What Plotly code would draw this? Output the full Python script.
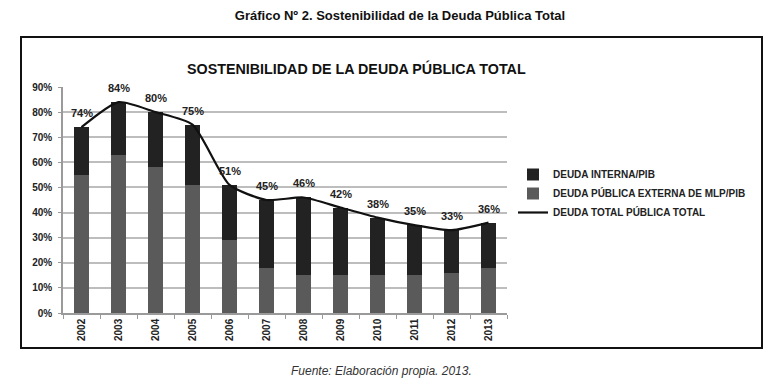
import plotly.graph_objects as go

years = ["2002", "2003", "2004", "2005", "2006", "2007", "2008", "2009", "2010", "2011", "2012", "2013"]
externa = [55, 63, 58, 51, 29, 18, 15, 15, 15, 15, 16, 18]
total = [74, 84, 80, 75, 51, 45, 46, 42, 38, 35, 33, 36]
interna = [t - e for t, e in zip(total, externa)]
y_ticks = [0, 10, 20, 30, 40, 50, 60, 70, 80, 90]
y_tick_labels = [f"{v}%" for v in y_ticks]

FONT = "Liberation Sans"
DARK = "#222222"
GREY = "#5a5a5a"

fig = go.Figure()
fig.add_trace(go.Bar(
    x=years, y=externa, name="DEUDA PÚBLICA EXTERNA DE MLP/PIB",
    marker=dict(color=GREY, line=dict(width=0)), legendrank=2,
))
fig.add_trace(go.Bar(
    x=years, y=interna, name="DEUDA INTERNA/PIB",
    marker=dict(color=DARK, line=dict(width=0)), legendrank=1,
))
fig.add_trace(go.Scatter(
    x=years, y=total, name="DEUDA TOTAL PÚBLICA TOTAL", mode="lines",
    line=dict(color="#111111", width=2.2, shape="spline", smoothing=0.6),
    legendrank=3,
))

for i, t in enumerate(total):
    fig.add_annotation(
        x=i, y=t, text=f"{t}%", showarrow=False, yshift=14,
        font=dict(family=FONT, size=11, color="#222222", weight="bold"),
    )

# paper coordinates helpers (plot area 63..507 px wide, 87..313 px tall)
def px_x(p):
    return (p - 63) / 444.0

def px_y(p):
    return (313 - p) / 226.0

fig.add_shape(
    type="rect", xref="paper", yref="paper",
    x0=px_x(21), x1=px_x(762), y0=px_y(348), y1=px_y(37),
    line=dict(color="#111111", width=2), fillcolor="rgba(0,0,0,0)", layer="below",
)

fig.add_annotation(
    xref="paper", yref="paper", x=px_x(356), y=px_y(68),
    xanchor="center", yanchor="middle",
    text="SOSTENIBILIDAD DE LA DEUDA PÚBLICA TOTAL", showarrow=False,
    font=dict(family=FONT, size=14.3, color="#111111", weight="bold"),
)
fig.add_annotation(
    xref="paper", yref="paper", x=px_x(381), y=px_y(371),
    xanchor="center", yanchor="middle",
    text="<i>Fuente: Elaboración propia. 2013.</i>", showarrow=False,
    font=dict(family=FONT, size=12, color="#333333"),
)

fig.update_layout(
    width=781, height=382,
    margin=dict(l=63, r=274, t=87, b=69),
    paper_bgcolor="white", plot_bgcolor="white",
    barmode="stack", bargap=0.6,
    title=dict(
        text="<b>Gráfico Nº 2. Sostenibilidad de la Deuda Pública Total</b>",
        x=400 / 781, xanchor="center", y=1 - 15 / 382, yanchor="middle",
        xref="container", yref="container",
        font=dict(family=FONT, size=13, color="#111111"),
    ),
    legend=dict(
        x=px_x(513), y=px_y(160), xanchor="left", yanchor="top",
        font=dict(family=FONT, size=10, color="#222222", weight="bold"),
        bgcolor="rgba(0,0,0,0)", traceorder="normal",
    ),
    showlegend=True,
)
fig.update_xaxes(
    type="category", tickangle=-90, range=[-0.5, 11.5],
    tickfont=dict(family=FONT, size=10, color="#222222", weight="bold"),
    showline=True, linecolor="#9a9a9a", linewidth=1.5,
    ticks="outside", tickson="boundaries", ticklen=4, tickcolor="#9a9a9a",
    showgrid=False,
)
fig.update_yaxes(
    range=[0, 90], tickvals=y_ticks, ticktext=y_tick_labels,
    tickfont=dict(family=FONT, size=10, color="#222222", weight="bold"),
    showline=True, linecolor="#9a9a9a", linewidth=1.5,
    ticks="outside", ticklen=3, tickcolor="#9a9a9a", ticklabelstandoff=4,
    showgrid=True, gridcolor="#bdbdbd", gridwidth=1.5,
    zeroline=False,
)

fig.write_html(
    "out.html",
    config={"displayModeBar": False},
    post_script="document.body.style.margin='0px';",
)
